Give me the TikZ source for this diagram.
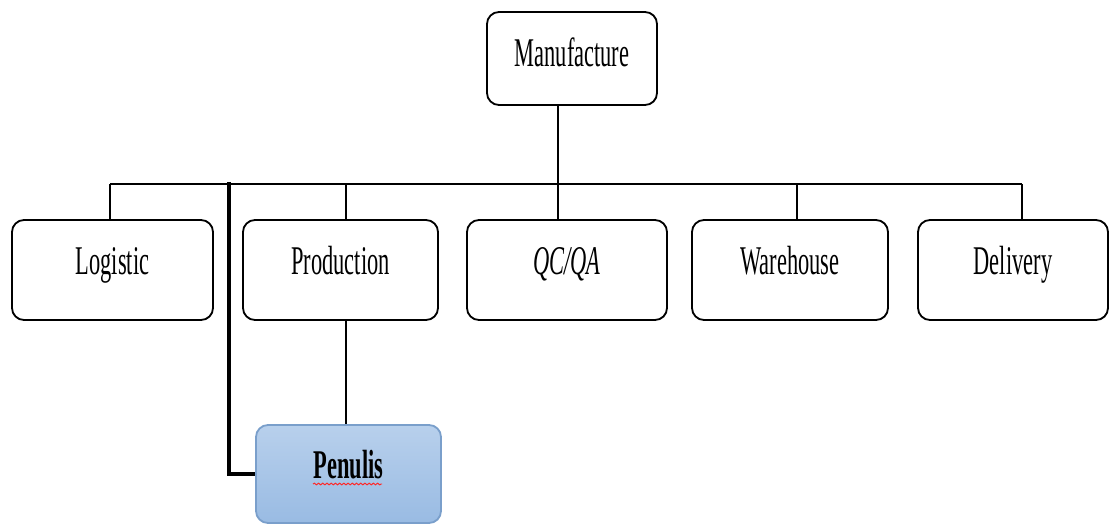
\documentclass[tikz,border=0pt]{standalone}
\usepackage{fontspec}
\setmainfont{Liberation Serif}[FakeStretch=0.55]
\usepackage{tikz}
\usetikzlibrary{decorations.pathmorphing}
\definecolor{penutop}{HTML}{B8D0EC}
\definecolor{penubot}{HTML}{99BBE3}
\definecolor{penuline}{HTML}{7A9FCB}
\tikzset{unitbox/.style={draw,line width=1.3pt,rounded corners=0.3cm,fill=white,
  font=\fontsize{29}{34}\selectfont,minimum height=100*0.025cm,inner sep=0pt,
  text height=20pt,text depth=13pt}}

\begin{document}
\begin{tikzpicture}[x=0.025cm,y=-0.025cm,line width=1.3pt]
          \useasboundingbox (0,0) rectangle (1115,525);
          \node[unitbox,minimum width=170*0.025cm,minimum height=93*0.025cm,text depth=9pt] (manu) at (572,58.5) {Manufacture};
          \node[unitbox,minimum width=201*0.025cm] (logi) at (112.5,270) {Logistic};
          \node[unitbox,minimum width=195*0.025cm] (prod) at (340.5,270) {Production};
          \node[unitbox,minimum width=200*0.025cm] (qcqa) at (567,270) {\itshape QC/QA};
          \node[unitbox,minimum width=196*0.025cm] (ware) at (790,270) {Warehouse};
          \node[unitbox,minimum width=190*0.025cm] (deli) at (1013,270) {Delivery};
          \node[unitbox,minimum width=185*0.025cm,minimum height=98*0.025cm,draw=penuline,
            top color=penutop,bottom color=penubot,font=\fontsize{29}{34}\selectfont\bfseries] (penu) at (348.5,474) {Penulis};

          \coordinate (bl) at (110,184); \coordinate (br) at (1022,184); \coordinate (bm) at (558,184);
          \coordinate (bp) at (346,184); \coordinate (bw) at (797,184); \coordinate (bk) at (229,182);
          \draw (bl) -- (br); \draw (bm |- manu.south) -- (bm);
          \draw (bl) -- (bl |- logi.north); \draw (bp) -- (bp |- prod.north);
          \draw (bm) -- (bm |- qcqa.north); \draw (bw) -- (bw |- ware.north);
          \draw (br) -- (br |- deli.north); \draw (bp |- prod.south) -- (bp |- penu.north);
          \draw[line width=2.2pt] (bk) -- (bk |- penu.west) -- (penu.west);
          % spelling mark under the label
          \draw[red!80!pink,line width=0.7pt,decorate,decoration={snake,amplitude=0.6pt,segment length=3pt}]
            (313,484) -- (382,484);
        \end{tikzpicture}
\end{document}
